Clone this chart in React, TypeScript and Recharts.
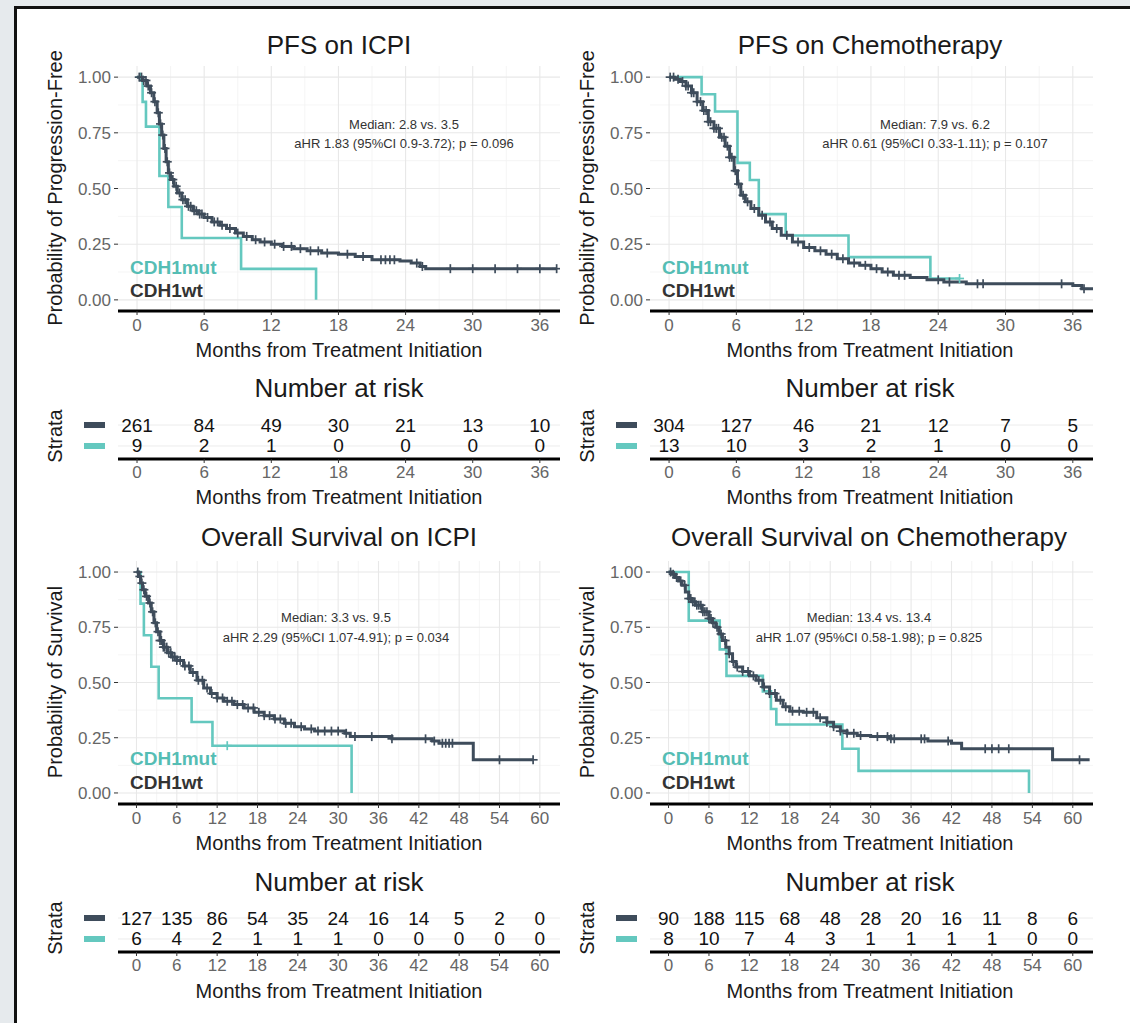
import React from 'react';
import { ComposedChart, Line, Scatter, XAxis, YAxis, CartesianGrid } from 'recharts';

const FONT = '"Liberation Sans", Arial, Helvetica, sans-serif';
const WT = '#3e4c5b';
const MUT = '#64c8bf';

// ---------- ticks ----------
const months36 = [0, 6, 12, 18, 24, 30, 36];
const months36Minor = [3, 9, 15, 21, 27, 33];
const months60 = [0, 6, 12, 18, 24, 30, 36, 42, 48, 54, 60];
const months60Minor = [3, 9, 15, 21, 27, 33, 39, 45, 51, 57];
const survTicks = [0, 0.25, 0.5, 0.75, 1];
const survMinor = [0.125, 0.375, 0.625, 0.875];

// ---------- PFS on ICPI ----------
const pfsIcpiWt: [number, number][] = [
  [0, 1], [0.5, 0.985], [0.9, 0.96], [1.2, 0.93], [1.5, 0.89], [1.8, 0.84], [2.0, 0.79], [2.2, 0.74],
  [2.4, 0.68], [2.6, 0.62], [2.8, 0.57], [3.0, 0.54], [3.3, 0.51], [3.6, 0.48], [4.0, 0.45], [4.5, 0.42],
  [5.0, 0.4], [5.5, 0.385], [6.0, 0.37], [6.7, 0.35], [7.4, 0.335], [8.0, 0.32], [8.8, 0.3], [9.5, 0.285],
  [10.3, 0.27], [11.0, 0.26], [12.0, 0.25], [13.0, 0.24], [14.0, 0.23], [15.2, 0.22], [16.5, 0.21],
  [18.0, 0.205], [19.5, 0.195], [21.0, 0.18], [23.5, 0.175], [24.5, 0.165], [25.3, 0.15], [25.8, 0.14], [37.5, 0.14],
];
const pfsIcpiMut: [number, number][] = [
  [0, 1], [0.5, 0.889], [0.8, 0.778], [2.0, 0.556], [2.8, 0.417], [4.0, 0.278], [9.3, 0.139], [16.0, 0],
];
const pfsIcpiWtCens = [0.2, 0.4, 0.6, 0.8, 1.0, 1.3, 1.6, 1.9, 2.1, 2.3, 2.5, 2.7, 2.9, 3.2, 3.5, 3.8, 4.1, 4.3, 4.6, 4.8, 5.1, 5.3, 5.6, 5.8, 6.3, 6.9, 7.2, 7.6, 8.3, 9.0, 9.8, 10.6, 11.4, 12.3, 13.1, 13.8, 14.6, 15.5, 16.2, 17.0, 18.8, 20.2, 21.8, 22.2, 22.6, 23.0, 25.0, 25.5, 28.0, 30.0, 32.0, 34.0, 36.0, 37.5];
const pfsIcpiMutCens = [0.3];
const pfsIcpiRiskWt = [261, 84, 49, 30, 21, 13, 10];
const pfsIcpiRiskMut = [9, 2, 1, 0, 0, 0, 0];

// ---------- PFS on Chemotherapy ----------
const pfsChemoWt: [number, number][] = [
  [0, 1], [0.5, 0.99], [1.0, 0.98], [1.5, 0.96], [2.0, 0.93], [2.5, 0.89], [3.0, 0.85], [3.5, 0.8], [4.0, 0.77],
  [4.5, 0.73], [5.0, 0.69], [5.4, 0.64], [5.8, 0.58], [6.1, 0.52], [6.4, 0.47], [6.8, 0.44], [7.3, 0.41], [8.0, 0.38],
  [8.6, 0.35], [9.2, 0.32], [10.0, 0.29], [11.0, 0.26], [12.0, 0.235], [13.0, 0.22], [14.0, 0.205], [15.0, 0.185],
  [16.0, 0.165], [17.0, 0.155], [18.0, 0.14], [19.0, 0.125], [20.0, 0.11], [21.5, 0.1], [23.0, 0.09], [24.5, 0.08],
  [26.5, 0.072], [36.0, 0.065], [36.8, 0.05], [37.8, 0.05],
];
const pfsChemoMut: [number, number][] = [
  [0, 1], [2.9, 0.923], [4.1, 0.846], [6.1, 0.615], [7.2, 0.538], [8.0, 0.385], [10.4, 0.289], [16.0, 0.192], [23.3, 0.096], [25.9, 0.096],
];
const pfsChemoWtCens = [0.1, 0.4, 0.8, 1.2, 1.5, 1.7, 2.0, 2.2, 2.5, 2.8, 3.1, 3.3, 3.5, 3.7, 4.0, 4.2, 4.4, 4.7, 4.9, 5.2, 5.4, 5.6, 5.9, 6.2, 6.6, 7.0, 7.6, 8.3, 9.0, 9.6, 10.5, 11.5, 12.5, 13.5, 14.5, 15.5, 16.5, 17.5, 18.5, 19.5, 20.5, 21.0, 24.0, 25.0, 27.5, 28.0, 35.0, 37.0];
const pfsChemoMutCens = [25.9];
const pfsChemoRiskWt = [304, 127, 46, 21, 12, 7, 5];
const pfsChemoRiskMut = [13, 10, 3, 2, 1, 0, 0];

// ---------- OS on ICPI ----------
const osIcpiWt: [number, number][] = [
  [0, 1], [0.3, 0.98], [0.6, 0.95], [0.9, 0.92], [1.3, 0.89], [1.8, 0.86], [2.2, 0.82], [2.6, 0.77], [3.0, 0.73],
  [3.5, 0.69], [4.0, 0.66], [4.6, 0.635], [5.2, 0.615], [6.0, 0.6], [7.0, 0.575], [8.0, 0.545], [9.0, 0.51], [10.0, 0.475],
  [11.0, 0.45], [12.0, 0.43], [13.0, 0.415], [14.5, 0.4], [16.0, 0.385], [17.5, 0.365], [19.0, 0.35], [20.5, 0.335],
  [22.0, 0.315], [23.5, 0.3], [25.0, 0.29], [26.5, 0.28], [31.0, 0.27], [31.8, 0.255], [38.0, 0.245], [44.0, 0.235],
  [45.0, 0.225], [50.1, 0.15], [59.0, 0.15],
];
const osIcpiMut: [number, number][] = [
  [0, 1], [0.6, 0.857], [1.1, 0.714], [2.2, 0.571], [3.3, 0.429], [8.2, 0.321], [11.3, 0.214], [32.0, 0],
];
const osIcpiWtCens = [0.2, 0.5, 0.8, 1.1, 1.5, 2.0, 2.4, 2.8, 3.2, 3.5, 3.7, 4.0, 4.2, 4.5, 4.8, 5.1, 5.4, 5.7, 6.0, 6.5, 7.2, 7.8, 8.4, 9.2, 9.8, 10.5, 11.2, 12.0, 12.8, 13.5, 14.2, 15.0, 15.8, 16.6, 17.4, 18.2, 19.0, 19.8, 20.6, 21.4, 22.2, 23.0, 24.5, 26.0, 27.0, 28.0, 29.0, 30.0, 31.2, 32.5, 35.0, 38.0, 43.0, 44.3, 45.5, 46.0, 46.5, 47.0, 54.0, 59.0];
const osIcpiMutCens = [13.5];
const osIcpiRiskWt = [127, 135, 86, 54, 35, 24, 16, 14, 5, 2, 0];
const osIcpiRiskMut = [6, 4, 2, 1, 1, 1, 0, 0, 0, 0, 0];

// ---------- OS on Chemotherapy ----------
const osChemoWt: [number, number][] = [
  [0, 1], [0.5, 0.99], [1.0, 0.975], [1.5, 0.96], [2.0, 0.94], [2.5, 0.91], [3.0, 0.88], [3.5, 0.865], [4.0, 0.85],
  [5.0, 0.82], [6.0, 0.79], [6.5, 0.77], [7.0, 0.75], [7.5, 0.72], [8.0, 0.69], [8.5, 0.66], [9.0, 0.63], [9.5, 0.595],
  [10.0, 0.57], [11.0, 0.55], [12.0, 0.53], [13.0, 0.51], [14.0, 0.48], [15.0, 0.45], [16.0, 0.42], [17.0, 0.39],
  [18.0, 0.37], [20.0, 0.365], [22.0, 0.34], [23.5, 0.32], [24.5, 0.3], [25.5, 0.28], [26.5, 0.27], [28.0, 0.26],
  [30.0, 0.255], [33.0, 0.245], [38.5, 0.235], [42.0, 0.225], [43.5, 0.2], [57.0, 0.15], [62.5, 0.15],
];
const osChemoMut: [number, number][] = [
  [0, 1], [3.0, 0.78], [7.6, 0.65], [8.6, 0.53], [14.0, 0.46], [15.2, 0.38], [16.0, 0.31], [25.8, 0.2], [28.2, 0.1], [53.5, 0],
];
const osChemoWtCens = [0.3, 0.7, 1.2, 1.8, 2.4, 3.0, 3.3, 3.6, 3.9, 4.2, 4.5, 4.8, 5.1, 5.4, 5.7, 6.0, 6.3, 6.6, 7.2, 7.8, 8.4, 9.0, 9.6, 10.2, 11.0, 11.8, 12.6, 13.4, 14.2, 15.0, 15.8, 16.6, 17.4, 18.4, 19.4, 20.5, 21.5, 22.5, 23.5, 24.5, 25.5, 26.5, 27.5, 28.5, 31.0, 32.5, 33.0, 33.5, 37.5, 38.0, 41.5, 47.0, 48.0, 49.0, 50.5, 61.0];
const osChemoMutCens: number[] = [];
const osChemoRiskWt = [90, 188, 115, 68, 48, 28, 20, 16, 11, 8, 6];
const osChemoRiskMut = [8, 10, 7, 4, 3, 1, 1, 1, 1, 0, 0];

// ---------- helpers ----------
function stepAt(curve: [number, number][], t: number) {
  let s = curve[0][1];
  for (const [ct, cs] of curve) {
    if (ct <= t) s = cs;
    else break;
  }
  return s;
}
const toPts = (c: [number, number][]) => c.map(([t, s]) => ({ t, s }));
const censPts = (c: [number, number][], times: number[]) => times.map((t) => ({ t, s: stepAt(c, t) }));

const plusShape = (color: string) => (props: any) => {
  const { cx, cy } = props;
  if (cx == null || cy == null) return <g />;
  return (
    <g>
      <line x1={cx - 4.5} x2={cx + 4.5} y1={cy} y2={cy} stroke={color} strokeWidth={1.7} />
      <line x1={cx} x2={cx} y1={cy - 4.5} y2={cy + 4.5} stroke={color} strokeWidth={1.7} />
    </g>
  );
};

const riskText = (props: any) => {
  const { cx, cy, payload } = props;
  if (cx == null || cy == null) return <g />;
  return (
    <text x={cx} y={cy} textAnchor="middle" dominantBaseline="central" fontSize={19} fill="#111" fontFamily={FONT}>
      {payload.n}
    </text>
  );
};

const swatchTick = (props: any) => {
  const { x, y, payload } = props;
  return <rect x={x - 34} y={y - 3} width={21} height={6} fill={payload.value === 2 ? WT : MUT} />;
};

type Rect = { x0: number; y0: number; x1: number; y1: number };

const tickStyle = { fill: '#666', fontSize: 17, fontFamily: FONT };

function KMChart(props: {
  rect: Rect; xDomain: [number, number]; xTicks: number[]; xMinor: number[];
  wt: [number, number][]; mut: [number, number][]; wtCens: number[]; mutCens: number[];
}) {
  const { rect, xDomain, xTicks, xMinor, wt, mut, wtCens, mutCens } = props;
  const padL = 120, padT = 12, padR = 20, padB = 40;
  const W = rect.x1 - rect.x0 + padL + padR;
  const H = rect.y1 - rect.y0 + padT + padB;
  return (
    <div style={{ position: 'absolute', left: rect.x0 - padL, top: rect.y0 - padT }}>
      <ComposedChart width={W} height={H} margin={{ top: padT, right: padR, bottom: 0, left: 0 }}>
        <CartesianGrid stroke="#f2f2f2" strokeWidth={0.8} verticalValues={xMinor} horizontalValues={survMinor} />
        <CartesianGrid stroke="#e8e8e8" strokeWidth={1.1} verticalValues={xTicks} horizontalValues={survTicks} />
        <XAxis
          type="number" dataKey="t" domain={xDomain} ticks={xTicks} allowDataOverflow interval={0} height={padB}
          axisLine={{ stroke: '#000', strokeWidth: 3 }} tickLine={{ stroke: '#333' }} tickSize={4} tickMargin={4}
          tick={tickStyle}
        />
        <YAxis
          type="number" dataKey="s" domain={[-0.05, 1.05]} ticks={survTicks} allowDataOverflow interval={0} width={padL}
          axisLine={false} tickLine={{ stroke: '#333' }} tickSize={4} tickMargin={3} tick={tickStyle}
          tickFormatter={(v: number) => v.toFixed(2)}
        />
        <Line data={toPts(mut)} dataKey="s" type="stepAfter" stroke={MUT} strokeWidth={2.6} dot={false} isAnimationActive={false} />
        <Scatter data={censPts(mut, mutCens)} dataKey="s" shape={plusShape(MUT)} isAnimationActive={false} />
        <Line data={toPts(wt)} dataKey="s" type="stepAfter" stroke={WT} strokeWidth={3} dot={false} isAnimationActive={false} />
        <Scatter data={censPts(wt, wtCens)} dataKey="s" shape={plusShape(WT)} isAnimationActive={false} />
      </ComposedChart>
    </div>
  );
}

function RiskChart(props: { rect: Rect; xDomain: [number, number]; xTicks: number[]; wtRisk: number[]; mutRisk: number[] }) {
  const { rect, xDomain, xTicks, wtRisk, mutRisk } = props;
  const padL = 120, padT = 4, padR = 20, padB = 30;
  const W = rect.x1 - rect.x0 + padL + padR;
  const H = rect.y1 - rect.y0 + padT + padB;
  const wtData = xTicks.map((t, i) => ({ t, row: 2, n: wtRisk[i] }));
  const mutData = xTicks.map((t, i) => ({ t, row: 1, n: mutRisk[i] }));
  return (
    <div style={{ position: 'absolute', left: rect.x0 - padL, top: rect.y0 - padT }}>
      <ComposedChart width={W} height={H} margin={{ top: padT, right: padR, bottom: 0, left: 0 }}>
        <CartesianGrid stroke="#ececec" vertical={false} horizontalValues={[1, 2]} />
        <XAxis
          type="number" dataKey="t" domain={xDomain} ticks={xTicks} allowDataOverflow interval={0} height={padB}
          axisLine={{ stroke: '#000', strokeWidth: 3 }} tickLine={{ stroke: '#333' }} tickSize={4} tickMargin={3}
          tick={tickStyle}
        />
        <YAxis
          type="number" dataKey="row" domain={[0.38, 2.62]} ticks={[1, 2]} allowDataOverflow interval={0} width={padL}
          axisLine={false} tickLine={false} tickSize={0} tickMargin={0} tick={swatchTick}
        />
        <Scatter data={wtData} shape={riskText} isAnimationActive={false} />
        <Scatter data={mutData} shape={riskText} isAnimationActive={false} />
      </ComposedChart>
    </div>
  );
}

function Txt(props: { x: number; y: number; size: number; children: React.ReactNode; color?: string; anchor?: 'middle' | 'start'; bold?: boolean; rotate?: boolean }) {
  const { x, y, size, children, color = '#1a1a1a', anchor = 'middle', bold, rotate } = props;
  let transform = anchor === 'middle' ? 'translate(-50%, -50%)' : 'translate(0, -50%)';
  if (rotate) transform = 'translate(-50%, -50%) rotate(-90deg)';
  return (
    <div
      style={{
        position: 'absolute', left: x, top: y, transform, fontSize: size, lineHeight: 1, whiteSpace: 'nowrap',
        color, fontFamily: FONT, fontWeight: bold ? 700 : 400,
      }}
    >
      {children}
    </div>
  );
}

const dom36: [number, number] = [-1.7, 37.8];
const dom60: [number, number] = [-2.75, 63.0];

export default function App() {
  const colL = { x0: 118, x1: 560 };
  const colR = { x0: 650, x1: 1093 };
  const kmTop = { y0: 66, y1: 311 };
  const kmBot = { y0: 561, y1: 804 };
  const rkTop = { y0: 412, y1: 459 };
  const rkBot = { y0: 905, y1: 952 };
  const xt = 'Months from Treatment Initiation';
  return (
    <div style={{ position: 'absolute', left: 0, top: 0, width: 1130, height: 1023, background: '#e6eaed', overflow: 'hidden', fontFamily: FONT }}>
      <div style={{ position: 'absolute', left: 14, top: 6, width: 1130, height: 1030, background: '#fff', borderLeft: '3px solid #111', borderTop: '3px solid #111' }} />

      {/* PFS on ICPI */}
      <Txt x={339} y={45} size={26}>PFS on ICPI</Txt>
      <Txt x={55} y={188} size={20} rotate>Probability of Progression-Free</Txt>
      <KMChart rect={{ ...colL, ...kmTop }} xDomain={dom36} xTicks={months36} xMinor={months36Minor}
        wt={pfsIcpiWt} mut={pfsIcpiMut} wtCens={pfsIcpiWtCens} mutCens={pfsIcpiMutCens} />
      <Txt x={404} y={124} size={13} color="#333">Median: 2.8 vs. 3.5</Txt>
      <Txt x={404} y={143} size={13} color="#333">aHR 1.83 (95%CI 0.9-3.72); p = 0.096</Txt>
      <Txt x={130} y={267} size={19} color="#55bdb4" anchor="start" bold>CDH1mut</Txt>
      <Txt x={130} y={290} size={19} color="#333" anchor="start" bold>CDH1wt</Txt>
      <Txt x={339} y={350} size={20}>{xt}</Txt>
      <Txt x={339} y={388} size={26}>Number at risk</Txt>
      <Txt x={55} y={436} size={20} rotate>Strata</Txt>
      <RiskChart rect={{ ...colL, ...rkTop }} xDomain={dom36} xTicks={months36} wtRisk={pfsIcpiRiskWt} mutRisk={pfsIcpiRiskMut} />
      <Txt x={339} y={497} size={20}>{xt}</Txt>

      {/* PFS on Chemotherapy */}
      <Txt x={870} y={45} size={26}>PFS on Chemotherapy</Txt>
      <Txt x={587} y={188} size={20} rotate>Probability of Progression-Free</Txt>
      <KMChart rect={{ ...colR, ...kmTop }} xDomain={dom36} xTicks={months36} xMinor={months36Minor}
        wt={pfsChemoWt} mut={pfsChemoMut} wtCens={pfsChemoWtCens} mutCens={pfsChemoMutCens} />
      <Txt x={935} y={124} size={13} color="#333">Median: 7.9 vs. 6.2</Txt>
      <Txt x={935} y={143} size={13} color="#333">aHR 0.61 (95%CI 0.33-1.11); p = 0.107</Txt>
      <Txt x={662} y={267} size={19} color="#55bdb4" anchor="start" bold>CDH1mut</Txt>
      <Txt x={662} y={290} size={19} color="#333" anchor="start" bold>CDH1wt</Txt>
      <Txt x={870} y={350} size={20}>{xt}</Txt>
      <Txt x={870} y={388} size={26}>Number at risk</Txt>
      <Txt x={587} y={436} size={20} rotate>Strata</Txt>
      <RiskChart rect={{ ...colR, ...rkTop }} xDomain={dom36} xTicks={months36} wtRisk={pfsChemoRiskWt} mutRisk={pfsChemoRiskMut} />
      <Txt x={870} y={497} size={20}>{xt}</Txt>

      {/* OS on ICPI */}
      <Txt x={339} y={537} size={26}>Overall Survival on ICPI</Txt>
      <Txt x={55} y={682} size={20} rotate>Probability of Survival</Txt>
      <KMChart rect={{ ...colL, ...kmBot }} xDomain={dom60} xTicks={months60} xMinor={months60Minor}
        wt={osIcpiWt} mut={osIcpiMut} wtCens={osIcpiWtCens} mutCens={osIcpiMutCens} />
      <Txt x={336} y={617} size={13} color="#333">Median: 3.3 vs. 9.5</Txt>
      <Txt x={336} y={637} size={13} color="#333">aHR 2.29 (95%CI 1.07-4.91); p = 0.034</Txt>
      <Txt x={130} y={758} size={19} color="#55bdb4" anchor="start" bold>CDH1mut</Txt>
      <Txt x={130} y={782} size={19} color="#333" anchor="start" bold>CDH1wt</Txt>
      <Txt x={339} y={843} size={20}>{xt}</Txt>
      <Txt x={339} y={882} size={26}>Number at risk</Txt>
      <Txt x={55} y={928} size={20} rotate>Strata</Txt>
      <RiskChart rect={{ ...colL, ...rkBot }} xDomain={dom60} xTicks={months60} wtRisk={osIcpiRiskWt} mutRisk={osIcpiRiskMut} />
      <Txt x={339} y={991} size={20}>{xt}</Txt>

      {/* OS on Chemotherapy */}
      <Txt x={869} y={537} size={26}>Overall Survival on Chemotherapy</Txt>
      <Txt x={587} y={682} size={20} rotate>Probability of Survival</Txt>
      <KMChart rect={{ ...colR, ...kmBot }} xDomain={dom60} xTicks={months60} xMinor={months60Minor}
        wt={osChemoWt} mut={osChemoMut} wtCens={osChemoWtCens} mutCens={osChemoMutCens} />
      <Txt x={869} y={617} size={13} color="#333">Median: 13.4 vs. 13.4</Txt>
      <Txt x={869} y={637} size={13} color="#333">aHR 1.07 (95%CI 0.58-1.98); p = 0.825</Txt>
      <Txt x={662} y={758} size={19} color="#55bdb4" anchor="start" bold>CDH1mut</Txt>
      <Txt x={662} y={782} size={19} color="#333" anchor="start" bold>CDH1wt</Txt>
      <Txt x={870} y={843} size={20}>{xt}</Txt>
      <Txt x={870} y={882} size={26}>Number at risk</Txt>
      <Txt x={587} y={928} size={20} rotate>Strata</Txt>
      <RiskChart rect={{ ...colR, ...rkBot }} xDomain={dom60} xTicks={months60} wtRisk={osChemoRiskWt} mutRisk={osChemoRiskMut} />
      <Txt x={870} y={991} size={20}>{xt}</Txt>
    </div>
  );
}
